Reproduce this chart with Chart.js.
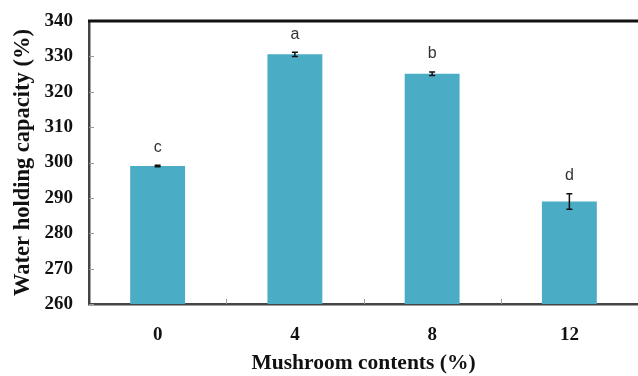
<!DOCTYPE html>
<html><head><meta charset="utf-8">
<script src="https://cdn.jsdelivr.net/npm/chart.js@4"></script>
<style>html,body{margin:0;padding:0;background:#fff}#wrap{width:638px;height:376px}</style>
</head><body><div id="wrap"><canvas id="c" width="638" height="376"></canvas></div>
<script>
const categories = ['0', '4', '8', '12'];
const values = [299.0, 330.6, 325.1, 289.0];
const errors = [0.2, 0.6, 0.5, 2.2];
const letters = ['c', 'a', 'b', 'd'];
const yTicks = [260, 270, 280, 290, 300, 310, 320, 330, 340];

const extras = {
  id: 'extras',
  afterDatasetsDraw(chart) {
    const ctx = chart.ctx, x = chart.scales.x, y = chart.scales.y, area = chart.chartArea;
    ctx.save();
    // inward tick marks
    ctx.strokeStyle = '#999'; ctx.lineWidth = 1;
    yTicks.forEach(v => { const py = Math.round(y.getPixelForValue(v)) + 0.5; ctx.beginPath(); ctx.moveTo(area.left, py); ctx.lineTo(area.left + 5, py); ctx.stroke(); });
    for (let i = 1; i < categories.length; i++) {
      const px = Math.round((x.getPixelForValue(i - 1) + x.getPixelForValue(i)) / 2) + 0.5;
      ctx.beginPath(); ctx.moveTo(px, area.bottom); ctx.lineTo(px, area.bottom - 5); ctx.stroke();
    }
    // top border
    ctx.strokeStyle = '#111'; ctx.lineWidth = 3;
    ctx.beginPath(); ctx.moveTo(area.left - 1, area.top); ctx.lineTo(chart.width, area.top); ctx.stroke();
    // error bars
    ctx.strokeStyle = '#111'; ctx.lineWidth = 1.5;
    values.forEach((v, i) => {
      const px = x.getPixelForValue(i);
      const t = y.getPixelForValue(v + errors[i]), b = y.getPixelForValue(v - errors[i]);
      ctx.beginPath();
      ctx.moveTo(px, t); ctx.lineTo(px, b);
      ctx.moveTo(px - 3, t); ctx.lineTo(px + 3, t);
      ctx.moveTo(px - 3, b); ctx.lineTo(px + 3, b);
      ctx.stroke();
      ctx.fillStyle = '#333';
      ctx.font = '16px "Liberation Sans", Arial, sans-serif';
      ctx.textAlign = 'center'; ctx.textBaseline = 'middle';
      ctx.fillText(letters[i], px, t - 18);
    });
    ctx.restore();
  }
};

new Chart(document.getElementById('c'), {
  type: 'bar',
  data: { labels: categories, datasets: [{ data: values, backgroundColor: '#4BACC6', borderWidth: 0, barPercentage: 0.4, categoryPercentage: 1.0 }] },
  options: {
    responsive: false, animation: false,
    layout: { padding: { top: 21, right: 0, left: 0, bottom: 0 } },
    plugins: { legend: { display: false }, tooltip: { enabled: false } },
    scales: {
      x: {
        grid: { display: false, drawTicks: false },
        border: { display: true, color: '#444', width: 2.5 },
        ticks: { color: '#111', padding: 20, font: { family: '"Liberation Serif", "Times New Roman", serif', size: 19, weight: 'bold' } },
        title: { display: true, text: 'Mushroom contents (%)', color: '#111', padding: { top: 4, bottom: 0 }, font: { family: '"Liberation Serif", "Times New Roman", serif', size: 21.5, weight: 'bold' } },
        afterFit(s) { s.height = 72; s.paddingLeft = 0; s.paddingRight = 0; }
      },
      y: {
        min: 260, max: 340,
        grid: { display: false, drawTicks: false },
        border: { display: true, color: '#444', width: 2.5 },
        afterBuildTicks(s) { s.ticks = yTicks.map(v => ({ value: v })); },
        ticks: { color: '#111', padding: 16, font: { family: '"Liberation Serif", "Times New Roman", serif', size: 19, weight: 'bold' } },
        title: { display: true, text: 'Water holding capacity (%)', color: '#111', padding: { top: 10, bottom: 0 }, font: { family: '"Liberation Serif", "Times New Roman", serif', size: 22.5, weight: 'bold' } },
        afterFit(s) { s.width = 89; s.paddingTop = 0; s.paddingBottom = 0; }
      }
    }
  },
  plugins: [extras]
});
</script></body></html>
